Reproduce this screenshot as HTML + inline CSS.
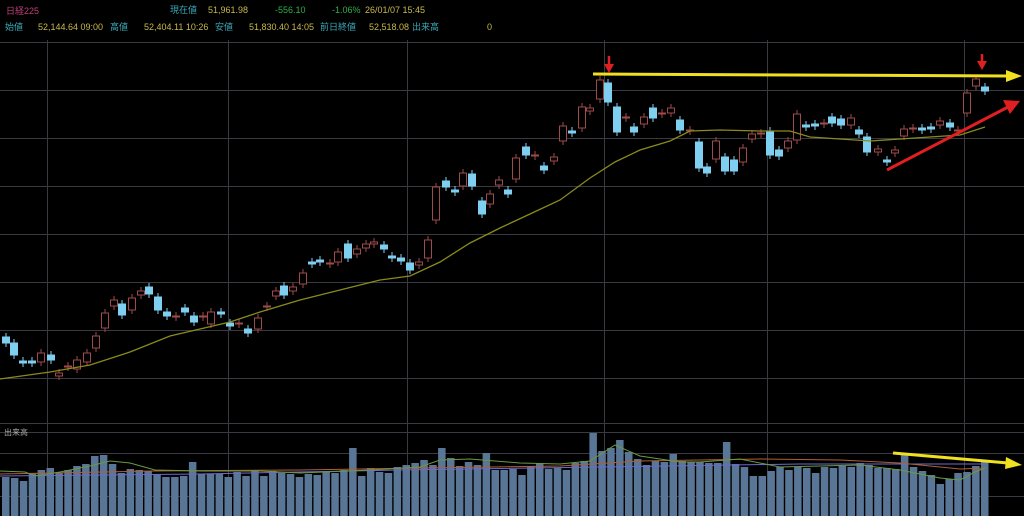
<!DOCTYPE html>
<html><head><meta charset="utf-8"><style>
html,body{margin:0;padding:0;background:#000;}
svg{display:block}
text{font-family:"Liberation Sans","Noto Sans CJK JP",sans-serif;font-size:9px}
</style></head><body>
<svg id="s" width="1024" height="516" viewBox="0 0 1024 516" xmlns="http://www.w3.org/2000/svg">
<rect width="1024" height="516" fill="#000"/>
<g id="grid" stroke="#3a3a42" stroke-width="1"></g>
<g id="vol"></g>
<g id="cdl"></g>
<text x="6" y="14" fill="#c0407a">日経225</text>
<text x="170" y="13" fill="#3aa8b8">現在値</text>
<text x="208" y="13" fill="#c8b84a">51,961.98</text>
<text x="275" y="13" fill="#2fb04a">-556.10</text>
<text x="332" y="13" fill="#2fb04a">-1.06%</text>
<text x="365" y="13" fill="#c8b84a">26/01/07  15:45</text>
<text x="5" y="30" fill="#3aa8b8">始値</text>
<text x="38" y="30" fill="#c8b84a">52,144.64 09:00</text>
<text x="110" y="30" fill="#3aa8b8">高値</text>
<text x="144" y="30" fill="#c8b84a">52,404.11 10:26</text>
<text x="215" y="30" fill="#3aa8b8">安値</text>
<text x="249" y="30" fill="#c8b84a">51,830.40 14:05</text>
<text x="320" y="30" fill="#3aa8b8">前日終値</text>
<text x="369" y="30" fill="#c8b84a">52,518.08</text>
<text x="412" y="30" fill="#3aa8b8">出来高</text>
<text x="487" y="30" fill="#c8b84a">0</text>
<text x="4" y="435" fill="#aaa" style="font-size:8px">出来高</text>
<polyline fill="none" stroke="#8a8a1e" stroke-width="1.3" points="0,379 50,372 90,365 130,352 170,336 200,329 230,322 260,312 300,300 340,290 380,280 410,276 440,262 470,243 500,228 530,214 560,200 590,178 615,162 640,150 670,141 690,131 720,130 760,131 790,131 810,137 840,139 870,141 900,139 930,137 960,135 985,127"/>
<g id="volma"></g>
<!-- annotations -->
<line x1="593" y1="74" x2="1008" y2="76" stroke="#f0e020" stroke-width="3"/>
<polygon points="1006,70 1022,76 1006,82" fill="#f0e020"/>
<line x1="887" y1="170" x2="1008" y2="107" stroke="#e02020" stroke-width="3"/>
<polygon points="1003,100 1020,101 1010,114" fill="#e02020"/>
<line x1="609" y1="56" x2="609" y2="66" stroke="#e02020" stroke-width="2.5"/>
<polygon points="604,64 614,64 609,73" fill="#e02020"/>
<line x1="982" y1="54" x2="982" y2="62" stroke="#e02020" stroke-width="2.5"/>
<polygon points="977,61 987,61 982,70" fill="#e02020"/>
<line x1="893" y1="453" x2="1008" y2="463" stroke="#f0e020" stroke-width="3"/>
<polygon points="1006,457 1022,465 1005,469" fill="#f0e020"/>
</svg>
<script>
var NS="http://www.w3.org/2000/svg";
function el(p,t,a){var e=document.createElementNS(NS,t);for(var k in a)e.setAttribute(k,a[k]);document.getElementById(p).appendChild(e);return e;}
[42,90,138,186,234,282,330,378,423,432,453,496].forEach(function(y){el("grid","line",{x1:0,x2:1024,y1:y+.5,y2:y+.5});});
[47,228,407,604,767,964].forEach(function(x){el("grid","line",{x1:x+.5,x2:x+.5,y1:40,y2:516});});
// candles: x, top, bottom, up(1=red hollow,0=blue)
var C=[[6,337,343,0],[14,343,355,0],[23,361,363,0],[32,361,363,0],[41,353,362,1],[51,355,360,0],[59,373,376,1],[68,366,367,1],[77,360,369,1],[87,353,362,1],[96,336,348,1],[105,313,328,1],[114,300,306,1],[122,304,315,0],[132,298,310,1],[141,291,295,1],[149,287,294,0],[158,297,310,0],[167,312,316,0],[176,316,317,1],[185,308,312,0],[194,316,322,0],[203,316,317,1],[211,312,324,1],[221,312,314,0],[230,323,326,0],[239,323,324,1],[248,329,333,0],[258,318,329,1],[267,306,307,1],[276,291,296,1],[284,286,295,0],[293,287,291,1],[303,273,284,1],[312,262,264,0],[320,260,262,0],[330,263,264,1],[338,252,262,1],[348,244,258,0],[357,249,254,1],[366,244,248,1],[374,242,244,1],[384,245,249,0],[392,256,258,0],[401,258,261,0],[410,263,270,0],[419,262,265,1],[428,240,258,1],[436,187,220,1],[446,181,187,0],[455,190,192,0],[463,173,186,1],[472,174,186,0],[482,201,214,0],[490,194,204,1],[499,180,185,1],[508,190,194,0],[516,158,179,1],[526,147,155,0],[535,155,156,1],[544,166,170,0],[554,157,161,1],[563,126,141,1],[572,131,133,0],[582,107,128,1],[590,108,111,1],[600,80,99,1],[608,83,102,0],[617,107,132,0],[626,117,118,1],[634,127,132,0],[644,117,124,1],[653,108,118,0],[662,113,114,1],[671,108,113,1],[680,120,130,0],[690,130,131,1],[699,142,168,0],[707,167,173,0],[716,141,159,1],[725,157,171,0],[734,160,171,0],[743,148,162,1],[752,134,139,1],[761,133,134,1],[770,131,155,0],[779,150,156,0],[788,141,148,1],[797,114,140,1],[806,125,127,0],[815,124,126,0],[824,123,124,1],[832,117,123,0],[841,119,125,0],[851,118,125,1],[859,130,134,0],[867,137,152,0],[878,149,152,1],[887,160,162,0],[895,150,153,1],[904,129,136,1],[913,128,129,1],[922,128,130,0],[931,127,129,0],[940,121,125,1],[950,123,127,0],[958,130,131,1],[967,93,113,1],[976,79,86,1],[985,87,91,0]];
C.forEach(function(c){var col=c[3]?"#a04a4a":"#7fd0f0";
el("cdl","line",{x1:c[0],x2:c[0],y1:c[1]-4,y2:c[2]+4,stroke:col,"stroke-width":1});
el("cdl","rect",{x:c[0]-3.5,y:c[1],width:7,height:Math.max(1,c[2]-c[1]),fill:c[3]?"#000":col,stroke:col,"stroke-width":1});});
var V=[477,478,481,473,470,468,473,470,466,464,456,455,464,473,469,470,471,474,477,477,476,462,474,474,474,477,472,476,470,476,471,473,474,477,474,475,471,473,470,448,476,468,472,473,467,465,463,460,465,448,458,466,462,465,453,470,470,469,475,466,463,469,468,470,463,461,433,451,448,440,452,459,465,461,462,454,461,462,462,463,463,442,464,467,476,476,471,467,470,467,468,473,467,468,466,467,463,465,468,468,469,455,467,471,475,484,479,473,472,466,462];
V.forEach(function(t,i){el("vol","rect",{x:2+i*8.9,y:t,width:7.5,height:516-t,fill:"#5a7696"});});
el("volma","polyline",{fill:"none",stroke:"#6a6ad0","stroke-width":1,points:"0,476 200,474 400,470 600,467 800,464 960,464 985,464"});
el("volma","polyline",{fill:"none",stroke:"#b06030","stroke-width":1,points:"0,474 150,471 300,470 420,468 560,466 640,461 760,459 840,460 900,463 960,469 985,468"});
el("volma","polyline",{fill:"none",stroke:"#6a9a40","stroke-width":1,points:"0,471 25,472 35,476 60,472 90,466 110,461 130,463 155,470 200,471 260,471 300,473 370,470 420,467 440,460 470,459 520,463 560,464 590,461 615,445 640,456 680,462 700,462 740,459 780,467 820,466 860,465 900,470 940,478 960,480 975,472 985,468"});
</script>
</body></html>
